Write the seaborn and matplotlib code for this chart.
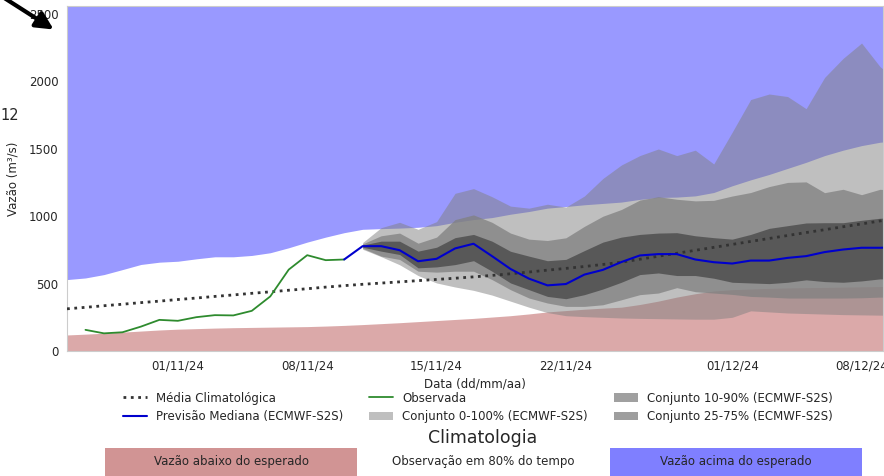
import numpy as np
import pandas as pd
import seaborn as sns
import matplotlib
matplotlib.use("Agg")
import matplotlib.pyplot as plt
import matplotlib.dates as mdates

# data

clim_dates = pd.date_range("2024-10-26", periods=46, freq="D")
obs_dates = pd.date_range("2024-10-27", periods=15, freq="D")
fc_dates = pd.date_range("2024-11-11", periods=30, freq="D")

clim_mean = [313, 324, 336, 347, 359, 370, 382, 393, 405, 416, 428, 439, 451, 462, 474, 485,
             495, 504, 513, 522, 531, 540, 550, 561, 573, 586, 600, 613, 627, 642, 659,
             681, 703, 725, 747, 769, 791, 813, 835, 857, 879, 900, 922, 943, 965, 987]
clim_upper = [530, 542, 567, 604, 642, 659, 666, 684, 699, 699, 709, 729, 766, 808, 845, 878,
              903, 908, 912, 918, 930, 955, 975, 990, 1015, 1035, 1060, 1072, 1085, 1095, 1105,
              1125, 1139, 1142, 1151, 1176, 1226, 1270, 1310, 1355, 1400, 1450, 1490, 1524, 1549, 1560]
clim_lower = [119, 125, 132, 140, 148, 156, 162, 166, 170, 173, 175, 177, 179, 181, 185, 190,
              196, 203, 210, 218, 226, 234, 242, 252, 262, 275, 290, 300, 310, 318, 325,
              345, 370, 400, 425, 445, 455, 460, 465, 468, 470, 472, 474, 476, 478, 480]

observed = [157, 131, 139, 181, 231, 224, 251, 266, 264, 298, 405, 604, 711, 674, 679]

ens_min = [755, 700, 640, 560, 505, 475, 450, 415, 370, 325, 285, 262, 255, 250, 245,
           242, 240, 238, 236, 236, 250, 298, 290, 282, 278, 274, 270, 268, 266, 265]
ens_p10 = [762, 704, 679, 592, 585, 592, 592, 530, 455, 393, 356, 331, 331, 343, 380,
           418, 430, 470, 440, 430, 420, 405, 400, 393, 393, 393, 393, 395, 400, 400]
ens_p25 = [770, 741, 716, 617, 624, 641, 670, 592, 505, 455, 405, 388, 418, 460, 510,
           567, 579, 560, 560, 540, 510, 505, 500, 510, 528, 515, 510, 520, 535, 535]
ens_median = [778, 778, 748, 666, 684, 761, 796, 704, 609, 537, 487, 497, 567, 602, 660,
              709, 719, 719, 679, 659, 649, 671, 671, 691, 704, 734, 753, 766, 766, 770]
ens_p75 = [786, 815, 815, 741, 770, 841, 865, 815, 740, 704, 670, 680, 745, 808, 845,
           865, 875, 878, 855, 841, 830, 865, 910, 930, 950, 952, 952, 970, 985, 990]
ens_p90 = [795, 855, 875, 800, 845, 975, 1010, 955, 875, 830, 820, 840, 925, 1000, 1050,
           1120, 1145, 1126, 1114, 1118, 1150, 1176, 1220, 1251, 1255, 1175, 1200, 1160, 1200, 1190]
ens_max = [805, 915, 955, 903, 960, 1170, 1205, 1145, 1075, 1060, 1089, 1068, 1150, 1280, 1380,
           1450, 1499, 1450, 1490, 1388, 1624, 1866, 1907, 1888, 1798, 2030, 2171, 2285, 2110, 2000]

clim_labels = ["Vazão abaixo do esperado", "Observação em 80% do tempo", "Vazão acima do esperado"]
clim_colors = ["brown", "white", "blue"]

# style

sns.set_style("whitegrid")
plt.rcParams["font.family"] = ["DejaVu Sans"]
plt.rcParams["font.size"] = 8.5

fig = plt.figure(figsize=(8.84, 4.76), dpi=100)
ax = fig.add_axes([67 / 884, 125 / 476, 816 / 884, 345 / 476])

# climatology bands

ax.fill_between(clim_dates, clim_upper, 3000, color="blue", alpha=0.4, lw=0, zorder=1)
ax.fill_between(clim_dates, 0, clim_lower, color="brown", alpha=0.4, lw=0, zorder=1)

# ensemble bands

ax.fill_between(fc_dates, ens_min, ens_max, color="gray", alpha=0.5, lw=0, zorder=2,
                label="Conjunto 0-100% (ECMWF-S2S)")
ax.fill_between(fc_dates, ens_p10, ens_p90, color="gray", alpha=0.75, lw=0, zorder=2,
                label="Conjunto 10-90% (ECMWF-S2S)")
ax.fill_between(fc_dates, ens_p25, ens_p75, color="black", alpha=0.38, lw=0, zorder=2,
                label="Conjunto 25-75% (ECMWF-S2S)")

# lines

sns.lineplot(x=clim_dates, y=clim_mean, ax=ax, color="#333333", lw=2, linestyle=":",
             label="Média Climatológica", zorder=3)
sns.lineplot(x=obs_dates, y=observed, ax=ax, color="#2e8b2e", lw=1.3,
             label="Observada", zorder=3)
med_dates = [obs_dates[-1]] + list(fc_dates)
sns.lineplot(x=med_dates, y=[observed[-1]] + ens_median, ax=ax, color="mediumblue", lw=1.5,
             label="Previsão Mediana (ECMWF-S2S)", zorder=3)

ax.grid(False)
ax.set_xlim(clim_dates[0], clim_dates[0] + pd.Timedelta(hours=44.16 * 24))
ax.set_ylim(0, 2560)
ax.set_yticks([0, 500, 1000, 1500, 2000, 2500])
ax.xaxis.set_major_locator(mdates.DayLocator(bymonthday=[1, 8, 15, 22]))
ax.xaxis.set_major_formatter(mdates.DateFormatter("%d/%m/%y"))
ax.tick_params(axis="both", which="major", length=3, color=".8", labelsize=8.5, pad=3)
ax.set_xlabel("Data (dd/mm/aa)", fontsize=8.5, labelpad=4)
ax.set_ylabel("Vazão (m³/s)", fontsize=8.5, labelpad=7)

# legend below the axes

handles, labels = ax.get_legend_handles_labels()
ax.get_legend().remove()
order = ["Média Climatológica", "Previsão Mediana (ECMWF-S2S)", "Observada",
         "Conjunto 0-100% (ECMWF-S2S)", "Conjunto 10-90% (ECMWF-S2S)", "Conjunto 25-75% (ECMWF-S2S)"]
lookup = dict(zip(labels, handles))
fig.legend([lookup[k] for k in order], order, ncol=3, loc="center",
           bbox_to_anchor=(478 / 884, 1 - 407.5 / 476), frameon=False, fontsize=8.5,
           columnspacing=2.2)

# climatology key bar

fig.text(483 / 884, 1 - 438 / 476, "Climatologia", ha="center", va="center", fontsize=12.5)
ax2 = fig.add_axes([105 / 884, 0, 757 / 884, 28 / 476])
ax2.bar(range(3), [1, 1, 1], width=1, color=clim_colors, alpha=0.5, lw=0)
for i, txt in enumerate(clim_labels):
    ax2.text(i, 0.5, txt, ha="center", va="center", fontsize=8.5)
ax2.set_xlim(-0.5, 2.5)
ax2.set_ylim(0, 1)
ax2.axis("off")

# arrow and stray label from the surrounding page

fig.text(0.5 / 884, 1 - 115 / 476, "12", ha="left", va="center", fontsize=10.5)
ax.annotate("", xy=(56 / 884, 1 - 31 / 476), xytext=(0.0, 1.01),
            xycoords="figure fraction", textcoords="figure fraction",
            arrowprops=dict(arrowstyle="-|>", lw=3, color="black", mutation_scale=26),
            annotation_clip=False)

plt.savefig("out.png", dpi=100)
plt.close()
